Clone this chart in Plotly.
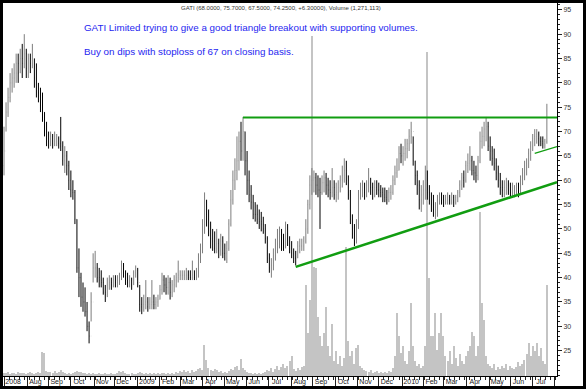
import plotly.graph_objects as go
import pandas as pd

# ---------------- data (one bar = 2 trading days) ----------------
high = [
    71, 76, 79, 82, 83, 84, 86, 86, 87, 88,
    90, 87, 86, 86, 88, 85, 84, 80, 79, 78,
    74, 72, 70, 70, 69.5, 70, 69.5, 69, 73, 68,
    67, 66, 64, 62, 60, 58, 52, 46, 41,
    39, 38, 35, 31, 37, 45, 45.5, 43, 42, 41.5,
    40, 38.5, 40, 40.5, 40, 40.5, 40.5, 40.5, 41, 43.5,
    43, 41.5, 41, 40.5, 40, 41.5, 42.5, 42, 38.5, 36,
    36.5, 39.5, 36, 36, 39.5, 36.5, 36, 36.5, 38.5, 41,
    40.5, 40, 40.5, 40, 39.5, 40.5, 41, 43.5, 41.5, 41.5,
    41.5, 42, 41.5, 41.5, 43.5, 41.5, 42, 45, 47, 52,
    57.5, 56, 54, 51.5, 50, 49.5, 50, 48, 49, 48.5,
    47, 47.5, 52, 58, 62, 64.5, 69, 70, 72,
    73, 70, 66, 62, 59, 57, 55.5, 55, 54, 53.5,
    52.5, 51, 48.5, 45, 44, 46, 48, 50, 50.5, 50,
    49, 51.5, 51, 48.5, 47.5, 46, 45.5, 47.5, 48, 48,
    48.5, 52, 56, 61, 62.5, 62, 61.5, 61, 60.5, 61,
    62, 61.5, 60.5, 60, 62.5, 60, 59.5, 60, 61, 63,
    64.5, 64, 61, 58, 53, 51, 52, 58, 59.5, 60,
    59.5, 60, 62.5, 60.5, 59.5, 60, 60, 59.5, 59, 58.5,
    58.5, 58, 58.5, 59, 61, 63, 64.5, 67, 67.5,
    67, 68.5, 68.5, 70.5, 72, 69, 64, 62, 60, 59,
    60, 63, 62, 59, 57.5, 57, 55.5, 57, 57.5, 57.5,
    57, 57, 57.5, 57, 57.5, 57, 57, 58, 60, 61.5,
    62, 64, 65.5, 67, 65, 64, 63, 65, 70, 71,
    72, 73, 72, 69, 67, 66.5, 64.5, 63, 61.5, 60,
    60, 60.5, 60, 59.5, 59.5, 59, 59.5, 59.5, 61, 62.5,
    64, 64.5, 66.5, 68, 69.5, 70.5, 70.5, 70, 69,
    69, 68.5, 75.7,
]
low = [
    61, 70, 73, 76, 78, 79, 80, 80, 82, 81,
    83, 81, 81, 82, 83, 79, 77, 76, 74, 72,
    69, 67, 66.5, 67, 66.5, 67, 67, 66.5, 66, 63,
    61.5, 61, 58, 56.5, 56, 51, 41, 36, 34,
    33, 32, 29, 26.5, 31, 39, 40, 39, 38, 38,
    36.5, 35, 36, 37.5, 37.5, 38, 38, 38, 38.5, 39.5,
    40, 38.5, 38, 38, 37.5, 38.5, 40, 38, 33, 32.5,
    33, 33.5, 33, 33.5, 33.5, 33.5, 33.5, 34, 35.5, 36.5,
    37, 36.5, 36.5, 35.5, 36, 37, 38, 39, 39.5, 39.5,
    39.5, 39.5, 39.5, 39.5, 39.5, 39.5, 39.5, 40, 43, 45,
    49, 50.5, 48.5, 46, 45.5, 45, 45, 44, 44.5, 44,
    43.5, 43, 45.5, 50.5, 55, 58, 60, 62, 64,
    64, 61, 57, 55.5, 54, 52, 51.5, 51, 50, 49.5,
    49, 47, 43, 41, 40, 41.5, 43.5, 45, 46, 45.5,
    45.5, 46, 46.5, 45, 44, 43, 42.5, 44, 45, 45.5,
    45.5, 47, 49, 54, 57, 57.5, 57, 56.5, 50, 57,
    57.5, 57, 56.5, 56, 56.5, 56, 55.5, 56, 57.5, 58.5,
    59.5, 59, 56, 51, 48, 46.5, 47, 50, 56, 56.5,
    56, 56.5, 57.5, 57, 56, 56.5, 57, 56.5, 56.5, 55.5,
    55.5, 55, 55.5, 56, 57, 59, 60.5, 62, 63.5,
    63, 64, 64.5, 66, 67.5, 63, 59, 57, 54, 53.5,
    55, 56, 56, 55, 53.5, 52.5, 52, 52.5, 55, 55,
    54.5, 55, 55, 55, 55, 54.5, 55, 55.5, 56.5, 58,
    58.5, 59.5, 61.5, 62, 61, 60, 59.5, 60, 63.5, 66.5,
    67, 68, 66, 64, 63, 62, 60, 58.5, 57, 56.5,
    56.5, 57, 57, 56.5, 56.5, 56.5, 57, 56.5, 57, 59,
    60, 61, 62.5, 64, 66, 67, 67.5, 67, 67,
    66.5, 66.5, 67.5,
]
close = [
    66, 74, 77, 80, 81, 82, 84, 82, 85, 84,
    86, 83, 85, 84, 85, 81, 79, 78, 76, 74,
    70, 68.5, 68, 69, 67.5, 68, 68.5, 67.5, 67, 64,
    65, 63, 60, 58, 57.5, 52, 42, 40, 36,
    35, 33, 30, 28, 35, 42, 42, 40, 39.5, 39,
    37, 36.5, 38.5, 39, 38.5, 39.5, 39, 40, 40, 42,
    41, 39.5, 39, 39.5, 38.5, 41, 41.5, 39, 34.5, 34,
    34.5, 35, 34, 34.5, 35, 34.5, 35, 35.5, 37.5, 39.5,
    38.5, 38, 39, 37, 38.5, 39.5, 40, 40.5, 40.5, 40.5,
    40.5, 40.5, 40, 40, 40.5, 40, 41, 44, 46, 50,
    53, 52, 50, 48, 47.5, 46, 47, 45.5, 47.5, 45,
    45, 46, 51, 56, 60, 62, 64, 68, 66,
    70, 64, 60, 57, 55.5, 53, 53, 52, 51.5, 51,
    50, 48, 44, 42, 42.5, 44.5, 46, 47, 48.5, 47,
    46.5, 49, 48, 46, 45, 44, 44, 46.5, 46.5, 46.5,
    47.5, 50, 55, 59, 60, 60.5, 59, 58, 57.5, 59.5,
    60.5, 59, 58, 57.5, 58.5, 57, 57.5, 58.5, 60, 61,
    62, 60, 57, 52, 49, 48, 50, 57, 58, 58,
    57.5, 59, 59.5, 58.5, 57, 58.5, 58, 58, 57.5, 57,
    56.5, 56, 57.5, 57.5, 60, 61.5, 62, 65.5, 65,
    65.5, 66.5, 67.5, 69, 70, 64, 61, 59, 56, 57,
    58, 60, 57.5, 56, 55, 54, 54.5, 56, 56.5, 56,
    55.5, 56, 56.5, 56, 56.5, 55.5, 56.5, 57.5, 59, 60.5,
    60, 63, 63.5, 64, 62, 61.5, 61, 64, 68, 69,
    70.5, 71, 67, 66, 64.5, 63.5, 61.5, 60, 58.5, 58,
    58.5, 59, 58, 57.5, 58, 58, 58.5, 57.5, 60, 61.5,
    63, 63.5, 65.5, 67, 68.5, 69, 69.5, 68.5, 68,
    67.5, 68, 74.25,
]
first_open = 63.0
# volume, thousand shares
volume_k = [
    42, 42, 56, 28, 42, 42, 28, 56, 42, 42,
    42, 28, 42, 56, 42, 28, 42, 56, 42, 336,
    322, 70, 56, 56, 42, 70, 42, 56, 84, 56,
    42, 28, 42, 28, 42, 56, 70, 56, 56,
    42, 42, 28, 42, 28, 42, 28, 28, 42, 28,
    28, 42, 28, 28, 42, 28, 28, 42, 70, 56,
    70, 42, 28, 28, 42, 28, 28, 42, 56, 42,
    28, 42, 28, 42, 28, 42, 28, 42, 28, 42,
    42, 28, 42, 28, 42, 28, 56, 42, 70, 56,
    84, 56, 70, 42, 84, 56, 70, 98, 112, 84,
    434, 224, 112, 84, 70, 98, 84, 56, 70, 42,
    56, 42, 70, 98, 84, 126, 140, 84, 238,
    112, 84, 56, 42, 42, 28, 42, 28, 42, 28,
    42, 56, 84, 70, 112, 56, 98, 140, 84, 126,
    168, 112, 140, 210, 280, 98, 70, 112, 84, 126,
    140, 1274, 602, 1064, 4746, 1526, 1512, 826, 560, 420,
    602, 966, 420, 280, 728, 210, 350, 168, 280, 140,
    252, 1806, 490, 280, 350, 168, 392, 434, 140, 112,
    84, 70, 56, 84, 42, 56, 70, 42, 56, 42,
    56, 42, 70, 56, 112, 280, 882, 560, 322,
    420, 210, 168, 350, 1022, 420, 210, 140, 168, 112,
    140, 420, 4522, 1372, 560, 560, 882, 364, 602, 882,
    560, 280, 210, 350, 168, 420, 252, 140, 308, 210,
    168, 280, 350, 420, 616, 560, 280, 420, 2296, 1022,
    784, 280, 168, 140, 112, 168, 84, 126, 98, 140,
    112, 168, 84, 140, 112, 98, 126, 196, 140, 168,
    224, 308, 462, 280, 420, 350, 462, 280, 392, 210,
    168, 1271,
]
assert len(high) == len(low) == len(close) == len(volume_k), (len(high), len(low), len(close), len(volume_k))

# trend lines drawn on the chart (trading-day index, price)
resist_x, resist_y = [236, 546], [72.9, 72.9]
support_x, support_y = [288, 546], [42.2, 59.6]
channel_x, channel_y = [524, 546], [65.5, 66.9]

price_ticks = list(range(25, 100, 5))
title_text = "GATI (68.0000, 75.7000, 67.5000, 74.2500, +6.30000), Volume (1,271,113)"
note1 = "GATI Limited trying to give a good triangle breakout with supporting volumes."
note2 = "Buy on dips with stoploss of 67 on closing basis."

# ---------------- build ----------------
days = pd.bdate_range("2008-07-01", periods=547)
bar_pos = list(range(0, 2 * len(close), 2))
opens = [first_open] + close[:-1]

month_pos = [i for i in range(len(days)) if i == 0 or days[i].month != days[i - 1].month]
month_lbl = [str(days[i].year) if (i == 0 or days[i].month == 1) else days[i].strftime("%b")
             for i in month_pos]
lbl_pos = [p + (9 if (lbl.isdigit()) else 8) for p, lbl in zip(month_pos, month_lbl)]

FONT = "Liberation Sans, Arial, sans-serif"
GREEN = "#119d11"
XR = [-1, 546]

fig = go.Figure()
fig.add_trace(go.Bar(x=bar_pos, y=volume_k, width=1.2,
                     marker=dict(color="#c4c4c4", line=dict(width=0)),
                     xaxis="x", yaxis="y", showlegend=False, hoverinfo="skip"))
fig.add_trace(go.Ohlc(x=bar_pos, open=opens, high=high, low=low, close=close,
                      xaxis="x2", yaxis="y2", tickwidth=0.08,
                      increasing=dict(line=dict(color="#7d7d7d", width=1)),
                      decreasing=dict(line=dict(color="#000000", width=1)),
                      showlegend=False))
for xs, ys, w in [(resist_x, resist_y, 2), (support_x, support_y, 2.5), (channel_x, channel_y, 1.3)]:
    fig.add_trace(go.Scatter(x=xs, y=ys, mode="lines", line=dict(color=GREEN, width=w),
                             xaxis="x2", yaxis="y2", showlegend=False, hoverinfo="skip"))

fig.update_layout(
    width=586, height=389,
    margin=dict(l=3, r=29, t=3, b=13),
    paper_bgcolor="white", plot_bgcolor="white",
    font=dict(family=FONT, color="#333333"),
    bargap=0,
    xaxis=dict(range=XR, showgrid=False, zeroline=False, showline=True, linecolor="black",
               linewidth=1, tickmode="array", tickvals=month_pos, ticks="outside", ticklen=10,
               tickcolor="#222", tickwidth=1, showticklabels=False,
               minor=dict(tickmode="linear", tick0=0, dtick=5, ticks="outside", ticklen=3,
                          tickcolor="#222"),
               rangeslider=dict(visible=False)),
    yaxis=dict(range=[0, 5211], visible=False),
    xaxis2=dict(overlaying="x", anchor="y2", side="bottom", range=XR, showgrid=False,
                zeroline=False, showline=False, tickmode="array", tickvals=lbl_pos,
                ticktext=month_lbl, ticks="", ticklen=0,
                tickfont=dict(family=FONT, size=7, color="#222"),
                rangeslider=dict(visible=False)),
    yaxis2=dict(overlaying="y", anchor="x2", side="right", range=[19.8, 96.4], showgrid=False,
                zeroline=False, showline=True, linecolor="black", linewidth=1,
                tickmode="array", tickvals=price_ticks, ticks="outside", ticklen=4,
                tickcolor="#222", tickfont=dict(family=FONT, size=7, color="#333"),
                minor=dict(tickmode="linear", tick0=0, dtick=1, ticks="outside", ticklen=2,
                           tickcolor="#222")),
)

fig.add_annotation(x=278 / 554, y=(376 - 8) / 373, xref="paper", yref="paper",
                   text=title_text, showarrow=False, xanchor="center", yanchor="middle",
                   font=dict(family=FONT, size=6, color="#333"))
fig.add_annotation(x=79 / 554, y=(376 - 27) / 373, xref="paper", yref="paper",
                   text=note1, showarrow=False, xanchor="left", yanchor="middle",
                   font=dict(family=FONT, size=9.8, color="#2626f0"))
fig.add_annotation(x=79 / 554, y=(376 - 51.5) / 373, xref="paper", yref="paper",
                   text=note2, showarrow=False, xanchor="left", yanchor="middle",
                   font=dict(family=FONT, size=9.8, color="#2626f0"))

fig.add_shape(type="rect", xref="paper", yref="paper",
              x0=-1.5 / 554, x1=581.5 / 554, y0=-11.5 / 373, y1=374.5 / 373,
              line=dict(color="black", width=3), fillcolor="rgba(0,0,0,0)", layer="above")

fig.write_html("out.html")
